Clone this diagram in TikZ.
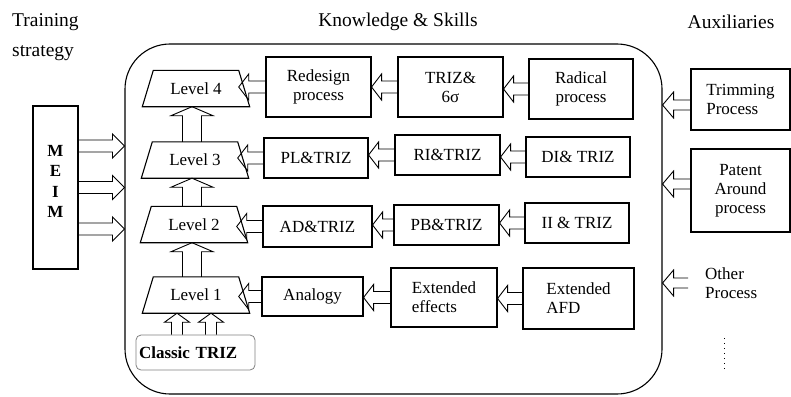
\documentclass[tikz,border=0pt]{standalone}
\usepackage{fontspec}
\setmainfont{Liberation Serif}
\usepackage{tikz}
\usetikzlibrary{calc}

\tikzset{
box/.style={draw, line width=1.1pt, inner sep=0pt, align=center, font=\fontsize{17}{20}\selectfont},
level/.style={minimum width=85pt, minimum height=36pt, inner sep=0pt, font=\fontsize{17}{20}\selectfont},
levelline/.style={line width=1.1pt, line join=miter},
heading/.style={inner sep=0pt, font=\fontsize{19.5}{30}\selectfont},
fatline/.style={line width=0.9pt, line join=miter},
}

% hollow block arrow: tail, tip, body half width, head half width, head length
\newcommand{\hollowarrow}[5]{%
\coordinate (fa) at (#1);
\coordinate (fb) at (#2);
\coordinate (fh) at ($(fb)!#5!(fa)$);
\draw[fatline] ($(fa)!#3!90:(fb)$) -- ($(fh)!#3!-90:(fa)$) -- ($(fh)!#4!-90:(fa)$) -- (fb)
 -- ($(fh)!#4!90:(fa)$) -- ($(fh)!#3!90:(fa)$) -- ($(fa)!#3!-90:(fb)$);
}

\begin{document}
\begin{tikzpicture}[x=1pt, y=-1pt]
\useasboundingbox (0,0) rectangle (791,396);

% HEADINGS %
{
\node[heading, anchor=west, align=left] (train) at (12,37) {Training\\strategy};
\node[heading] (know) at (398,22) {Knowledge \& Skills};
\node[heading] (aux) at (731,22) {Auxiliaries};
}

%%%%%%%%%%%%  Knowledge frame %%%%%%%%%%%%%
\node[draw, line width=1.1pt, rounded corners=45pt, minimum width=537pt, minimum height=350pt] (ks) at (393.5,219) {};

% training strategy
{
\node[box, minimum width=45pt, minimum height=163pt, text depth=12pt, font=\fontsize{17}{20.5}\selectfont\bfseries] (meim) at (55.5,187.5) {M\\E\\I\\M};

\foreach \dy [count=\i] in {-41.5,0,41.5}
{
\coordinate (m\i) at ($(meim.east)+(0,\dy)$);
\hollowarrow{m\i}{m\i -| ks.west}{6pt}{12pt}{12pt}
}
}

% levels
{
\node[level] (lvlfour) at (196,88.5) {Level 4};
\node[level] (lvlthree) at (195,160) {Level 3};
\node[level] (lvltwo) at (194,224.5) {Level 2};
\node[level] (lvlone) at (196,295) {Level 1};

\foreach \n in {lvlfour,lvlthree,lvltwo,lvlone}
\draw[levelline] ($(\n.south west)+(-11,0)$) -- (\n.north west) -- (\n.north east) -- ($(\n.south east)+(11,0)$) -- cycle;

\hollowarrow{$(lvlthree.north)+(-3,0)$}{$(lvlfour.south)+(-4,0)$}{9.5pt}{21pt}{9pt}
\hollowarrow{$(lvltwo.north)+(-2,0)$}{$(lvlthree.south)+(-3,0)$}{9.5pt}{21pt}{9pt}
\hollowarrow{$(lvlone.north)+(-4,0)$}{$(lvltwo.south)+(-2,0)$}{9.5pt}{21pt}{9pt}

\node[draw=gray, line width=0.8pt, rounded corners=5pt, minimum height=35pt, text width=113pt, inner xsep=3pt, inner ysep=0pt, align=left, font=\fontsize{17}{20}\selectfont\bfseries] (classic) at (195.5,352.5) {Classic TRIZ};

\coordinate (ca) at ($(classic.north)+(-18.5,0)$);
\coordinate (cb) at ($(classic.north)+(15.5,0)$);
\hollowarrow{ca}{ca |- lvlone.south}{5.5pt}{12.5pt}{9pt}
\hollowarrow{cb}{cb |- lvlone.south}{5.5pt}{12.5pt}{9pt}
}

% knowledge rows
{
\node[box, minimum width=105pt, minimum height=60pt] (redesign) at (318.5,87) {Redesign\\[-1pt]process};
\node[box, minimum width=105pt, minimum height=60pt] (trizsix) at (450.5,87) {TRIZ\&\\[-1pt]6σ};
\node[box, minimum width=104pt, minimum height=60pt] (radical) at (581,89) {Radical\\[-1pt]process};

\node[box, minimum width=104pt, minimum height=40pt] (pltriz) at (316,158) {PL\&TRIZ};
\node[box, minimum width=105pt, minimum height=40pt] (ritriz) at (447.5,155) {RI\&TRIZ};
\node[box, minimum width=104pt, minimum height=40pt] (ditriz) at (578,157) {DI\& TRIZ};

\node[box, minimum width=109pt, minimum height=41pt] (adtriz) at (317.5,226.5) {AD\&TRIZ};
\node[box, minimum width=105pt, minimum height=40pt] (pbtriz) at (446.5,225) {PB\&TRIZ};
\node[box, minimum width=104pt, minimum height=40pt] (iitriz) at (577,223) {II \& TRIZ};

\node[box, minimum width=101pt, minimum height=39pt] (analogy) at (312.5,296.5) {Analogy};
\node[box, minimum width=106pt, minimum height=59pt, align=left] (exteff) at (444,297.5) {Extended\\[-1pt]effects};
\node[box, minimum width=111pt, minimum height=61pt, align=left] (extafd) at (578.5,298.5) {Extended\\[-1pt]AFD};
}

% row arrows
{
\hollowarrow{redesign.west}{redesign.west -| lvlfour.east}{6pt}{13pt}{10pt}
\hollowarrow{trizsix.west}{trizsix.west -| redesign.east}{6pt}{13pt}{10pt}
\hollowarrow{radical.west}{radical.west -| trizsix.east}{6pt}{13pt}{10pt}

\hollowarrow{pltriz.west}{pltriz.west -| lvlthree.east}{6pt}{13pt}{10pt}
\hollowarrow{ritriz.west}{ritriz.west -| pltriz.east}{6pt}{13pt}{10pt}
\hollowarrow{ditriz.west}{ditriz.west -| ritriz.east}{6pt}{13pt}{10pt}

\hollowarrow{adtriz.west}{adtriz.west -| lvltwo.east}{6pt}{13pt}{10pt}
\hollowarrow{pbtriz.west}{pbtriz.west -| adtriz.east}{6pt}{13pt}{10pt}
\hollowarrow{iitriz.west}{iitriz.west -| pbtriz.east}{6pt}{13pt}{10pt}

\hollowarrow{analogy.west}{analogy.west -| lvlone.east}{6pt}{13pt}{10pt}
\hollowarrow{exteff.west}{exteff.west -| analogy.east}{6pt}{13pt}{10pt}
\hollowarrow{extafd.west}{extafd.west -| exteff.east}{6pt}{13pt}{10pt}
}

% auxiliaries
{
\node[box, minimum width=99pt, minimum height=61pt, align=left] (trim) at (740.5,99.5) {Trimming\\[-1pt]Process};
\node[box, minimum width=99pt, minimum height=83pt] (patent) at (740.5,190.5) {Patent\\[-1pt]Around\\[-1pt]process};
\node[inner sep=0pt, align=left, anchor=west, font=\fontsize{17}{20}\selectfont] (other) at (705,283) {Other\\[-1pt]Process};

\coordinate (ta) at ($(trim.west)+(0,5.5)$);
\coordinate (pa) at ($(patent.west)+(0,-6.5)$);
\coordinate (oa) at ($(other.west)+(-17,0)$);
\hollowarrow{ta}{ta -| ks.east}{5pt}{13pt}{11pt}
\hollowarrow{pa}{pa -| ks.east}{5pt}{13pt}{11pt}
\hollowarrow{oa}{oa -| ks.east}{5pt}{13pt}{11pt}

\draw[line width=1pt, dash pattern=on 1pt off 4pt] (724,338) -- (724,370);
}

\end{tikzpicture}
\end{document}
